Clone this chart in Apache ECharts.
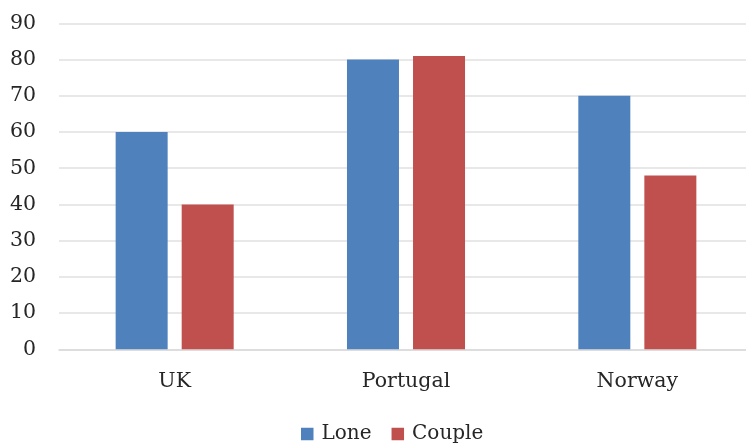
<!DOCTYPE html>
<html>
<head>
<meta charset="utf-8">
<script src="https://cdn.jsdelivr.net/npm/echarts@6/dist/echarts.min.js"></script>
<style>
  html, body { margin: 0; padding: 0; background: #fff; }
  #chart { width: 746px; height: 444px; }
</style>
</head>
<body>
<div id="chart"></div>
<script>
// Categories and series values
const countries = ['UK', 'Portugal', 'Norway'];
const loneValues = [60, 80, 70];
const coupleValues = [40, 81, 48];
const seriesNames = ['Lone', 'Couple'];

const FONT = '"DejaVu Serif", "Liberation Serif", serif';
const TEXT = '#262626';

const chart = echarts.init(document.getElementById('chart'));
chart.setOption({
  animation: false,
  grid: { left: 59, top: 23.3, height: 326, width: 694, outerBoundsMode: 'none' },
  legend: {
    data: seriesNames,
    left: 296,
    top: 419,
    itemWidth: 12.5,
    itemHeight: 12.5,
    itemGap: 20,
    icon: 'rect',
    textStyle: { fontFamily: FONT, fontSize: 20, color: TEXT, padding: [0, 0, 0, 3] }
  },
  xAxis: {
    type: 'category',
    data: countries,
    axisLine: { show: true, lineStyle: { color: '#d9d9d9', width: 1.5 } },
    axisTick: { show: false },
    axisLabel: { fontFamily: FONT, fontSize: 20.5, color: TEXT, margin: 22 }
  },
  yAxis: {
    type: 'value',
    min: 0,
    max: 90,
    interval: 10,
    axisLine: { show: false },
    axisTick: { show: false },
    splitLine: { lineStyle: { color: '#e0e0e0', width: 1.5 } },
    axisLabel: { fontFamily: FONT, fontSize: 20.5, color: TEXT, margin: 23 }
  },
  series: [
    {
      name: seriesNames[0],
      type: 'bar',
      data: loneValues,
      barWidth: 52,
      barGap: '27%',
      itemStyle: { color: '#4F81BD' }
    },
    {
      name: seriesNames[1],
      type: 'bar',
      data: coupleValues,
      barWidth: 52,
      barGap: '27%',
      itemStyle: { color: '#C0504D' }
    }
  ]
});
</script>
</body>
</html>
